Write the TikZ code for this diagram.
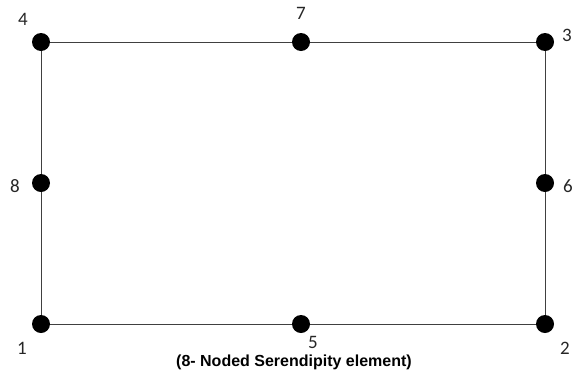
\documentclass[tikz,border=0pt]{standalone}
\usepackage{fontspec}
\newfontfamily\numfont{Carlito}
\newfontfamily\capfont{Liberation Sans}
\begin{document}
\begin{tikzpicture}[x=1pt,y=-1pt,
  dot/.style={circle,fill=black,inner sep=0pt,minimum size=18pt},
  num/.style={font=\numfont\fontsize{19}{19}\selectfont,inner sep=0pt,text=black!85},
  edge/.style={draw=black!75,line width=1pt}]
\useasboundingbox (0,0) rectangle (573,381);
\coordinate (c1) at (41,324);
\coordinate (c2) at (545,324);
\coordinate (c3) at (545,42);
\coordinate (c4) at (41,42);
\draw[edge] (c1) -- (c2) -- (c3) -- (c4) -- cycle;
\node[dot] (n1) at (c1) {};
\node[dot] (n2) at (c2) {};
\node[dot] (n3) at (c3) {};
\node[dot] (n4) at (c4) {};
\node[dot] (n5) at (301,324) {};
\node[dot] (n6) at (545,183) {};
\node[dot] (n7) at (301,42) {};
\node[dot] (n8) at (41,183) {};
\node[num] (l4) at (23,19) {4};
\node[num] (l7) at (301,13) {7};
\node[num] (l3) at (567,35) {3};
\node[num] (l8) at (15,186) {8};
\node[num] (l6) at (568,186) {6};
\node[num] (l1) at (22,348) {1};
\node[num] (l5) at (313,342) {5};
\node[num] (l2) at (565,348) {2};
\node[font=\capfont\bfseries\fontsize{16}{16}\selectfont,inner sep=0pt] (cap) at (294,362) {(8- Noded Serendipity element)};
\end{tikzpicture}
\end{document}
